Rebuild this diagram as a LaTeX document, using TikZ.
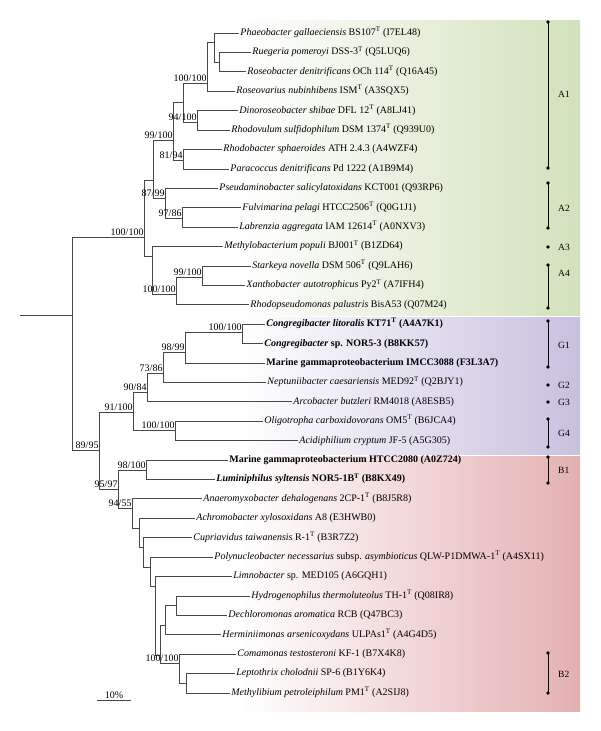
\documentclass[tikz,border=0pt]{standalone}
\usepackage{fontspec}
\setmainfont{Liberation Serif}
\newcommand{\supT}{\textsuperscript{T}}
\definecolor{cgreen}{RGB}{210,225,188}
\definecolor{cpurple}{RGB}{200,192,222}
\definecolor{cred}{RGB}{228,176,178}
\begin{document}
\begin{tikzpicture}[x=1pt,y=-1pt,
  br/.style={draw=black!72, line width=0.65pt},
  leaf/.style={anchor=west, inner xsep=1.2pt, inner ysep=0pt, font=\fontsize{10}{12}\selectfont, text height=7pt, text depth=2.2pt},
  bs/.style={anchor=south east, inner xsep=0.3pt, inner ysep=1.6pt, font=\fontsize{10}{12}\selectfont},
  clbar/.style={draw=black, line width=0.7pt},
  cllab/.style={anchor=west, inner sep=0pt, font=\fontsize{9.5}{11}\selectfont}]
\useasboundingbox (0,0) rectangle (600,731);
% backgrounds
\shade[left color=white, right color=cgreen] (240,20) rectangle (580,315.5);
\shade[left color=white, right color=cpurple] (240,317) rectangle (580,454);
\shade[left color=white, right color=cred] (240,456) rectangle (580,711);
% internal nodes
\coordinate (rs) at (20,315);
\coordinate (r) at (72,315);
\coordinate (nAlpha) at (144,237);
\coordinate (nA12) at (153,180);
\coordinate (nA1) at (173,140);
\coordinate (nX) at (183,102);
\coordinate (nR1) at (207,83);
\coordinate (nR2) at (214,42);
\coordinate (nR3) at (219,62);
\coordinate (n94) at (197,122);
\coordinate (n8194) at (183,160);
\coordinate (nA2) at (165,198);
\coordinate (n9786) at (182,218);
\coordinate (nA34) at (152,256);
\coordinate (nA4) at (176,294);
\coordinate (n99) at (202,277);
\coordinate (n8995) at (99,450);
\coordinate (nG) at (133,412);
\coordinate (n9084) at (147,392);
\coordinate (n7386) at (163,373);
\coordinate (n9899) at (185,352);
\coordinate (nG1) at (242,332);
\coordinate (nG4) at (175,430);
\coordinate (n9597) at (118,489);
\coordinate (nB1) at (146,470);
\coordinate (n9455) at (132,508);
\coordinate (nb1) at (139,528);
\coordinate (nb2) at (143,547);
\coordinate (nb3) at (150,567);
\coordinate (nb4) at (155,586);
\coordinate (nb5) at (160,655);
\coordinate (nb6) at (165,625);
\coordinate (nb7) at (176,605);
\coordinate (nB2) at (179,663);
\coordinate (nb8) at (186,683);
% leaves
\node[leaf] (L0) at (239,33.0) {\textit{Phaeobacter gallaeciensis} BS107\supT{} (I7EL48)};
\node[leaf] (L1) at (251,52.4) {\textit{Ruegeria pomeroyi} DSS-3\supT{} (Q5LUQ6)};
\node[leaf] (L2) at (246,71.8) {\textit{Roseobacter denitrificans} OCh 114\supT{} (Q16A45)};
\node[leaf] (L3) at (235,91.2) {\textit{Roseovarius nubinhibens} ISM\supT{} (A3SQX5)};
\node[leaf] (L4) at (238,110.6) {\textit{Dinoroseobacter shibae} DFL 12\supT{} (A8LJ41)};
\node[leaf] (L5) at (230,130.1) {\textit{Rhodovulum sulfidophilum} DSM 1374\supT{} (Q939U0)};
\node[leaf] (L6) at (222,149.5) {\textit{Rhodobacter sphaeroides} ATH 2.4.3 (A4WZF4)};
\node[leaf] (L7) at (229,168.9) {\textit{Paracoccus denitrificans} Pd 1222 (A1B9M4)};
\node[leaf] (L8) at (218,188.3) {\textit{Pseudaminobacter salicylatoxidans} KCT001 (Q93RP6)};
\node[leaf] (L9) at (241,207.7) {\textit{Fulvimarina pelagi} HTCC2506\supT{} (Q0G1J1)};
\node[leaf] (L10) at (238,227.1) {\textit{Labrenzia aggregata} IAM 12614\supT{} (A0NXV3)};
\node[leaf] (L11) at (223,246.5) {\textit{Methylobacterium populi} BJ001\supT{} (B1ZD64)};
\node[leaf] (L12) at (251,265.9) {\textit{Starkeya novella} DSM 506\supT{} (Q9LAH6)};
\node[leaf] (L13) at (245,285.3) {\textit{Xanthobacter autotrophicus} Py2\supT{} (A7IFH4)};
\node[leaf] (L14) at (249,304.7) {\textit{Rhodopseudomonas palustris} BisA53 (Q07M24)};
\node[leaf] (L15) at (265,324.2) {\textbf{\textit{Congregibacter litoralis} KT71\supT{} (A4A7K1)}};
\node[leaf] (L16) at (263,343.6) {\textbf{\textit{Congregibacter} sp. NOR5-3 (B8KK57)}};
\node[leaf] (L17) at (265,363.0) {\textbf{Marine gammaproteobacterium IMCC3088 (F3L3A7)}};
\node[leaf] (L18) at (266,382.4) {\textit{Neptuniibacter caesariensis} MED92\supT{} (Q2BJY1)};
\node[leaf] (L19) at (292,401.8) {\textit{Arcobacter butzleri} RM4018 (A8ESB5)};
\node[leaf] (L20) at (263,421.2) {\textit{Oligotropha carboxidovorans} OM5\supT{} (B6JCA4)};
\node[leaf] (L21) at (298,440.6) {\textit{Acidiphilium cryptum} JF-5 (A5G305)};
\node[leaf] (L22) at (228,460.0) {\textbf{Marine gammaproteobacterium HTCC2080 (A0Z724)}};
\node[leaf] (L23) at (215,479.4) {\textbf{\textit{Luminiphilus syltensis} NOR5-1B\supT{} (B8KX49)}};
\node[leaf] (L24) at (202,498.8) {\textit{Anaeromyxobacter dehalogenans} 2CP-1\supT{} (B8J5R8)};
\node[leaf] (L25) at (195,518.3) {\textit{Achromobacter xylosoxidans} A8 (E3HWB0)};
\node[leaf] (L26) at (192,537.7) {\textit{Cupriavidus taiwanensis} R-1\supT{} (B3R7Z2)};
\node[leaf] (L27) at (213,557.1) {\textit{Polynucleobacter necessarius} subsp. \textit{asymbioticus} QLW-P1DMWA-1\supT{} (A4SX11)};
\node[leaf] (L28) at (232,576.5) {\textit{Limnobacter} sp. MED105 (A6GQH1)};
\node[leaf] (L29) at (250,595.9) {\textit{Hydrogenophilus thermoluteolus} TH-1\supT{} (Q08IR8)};
\node[leaf] (L30) at (227,615.3) {\textit{Dechloromonas aromatica} RCB (Q47BC3)};
\node[leaf] (L31) at (221,634.7) {\textit{Herminiimonas arsenicoxydans} ULPAs1\supT{} (A4G4D5)};
\node[leaf] (L32) at (236,654.1) {\textit{Comamonas testosteroni} KF-1 (B7X4K8)};
\node[leaf] (L33) at (235,673.5) {\textit{Leptothrix cholodnii} SP-6 (B1Y6K4)};
\node[leaf] (L34) at (230,692.9) {\textit{Methylibium petroleiphilum} PM1\supT{} (A2SIJ8)};
% branches
\draw[br] (rs) -- (r);
\draw[br] (r) |- (nAlpha) (r) |- (n8995);
\draw[br] (nAlpha) |- (nA12) (nAlpha) |- (nA34);
\draw[br] (nA12) |- (nA1) (nA12) |- (nA2);
\draw[br] (nA1) |- (nX) (nA1) |- (n8194);
\draw[br] (nX) |- (nR1) (nX) |- (n94);
\draw[br] (nR1) |- (nR2) (nR1) |- (L3.west);
\draw[br] (nR2) |- (L0.west) (nR2) |- (nR3);
\draw[br] (nR3) |- (L1.west) (nR3) |- (L2.west);
\draw[br] (n94) |- (L4.west) (n94) |- (L5.west);
\draw[br] (n8194) |- (L6.west) (n8194) |- (L7.west);
\draw[br] (nA2) |- (L8.west) (nA2) |- (n9786);
\draw[br] (n9786) |- (L9.west) (n9786) |- (L10.west);
\draw[br] (nA34) |- (L11.west) (nA34) |- (nA4);
\draw[br] (nA4) |- (n99) (nA4) |- (L14.west);
\draw[br] (n99) |- (L12.west) (n99) |- (L13.west);
\draw[br] (n8995) |- (nG) (n8995) |- (n9597);
\draw[br] (nG) |- (n9084) (nG) |- (nG4);
\draw[br] (n9084) |- (n7386) (n9084) |- (L19.west);
\draw[br] (n7386) |- (n9899) (n7386) |- (L18.west);
\draw[br] (n9899) |- (nG1) (n9899) |- (L17.west);
\draw[br] (nG1) |- (L15.west) (nG1) |- (L16.west);
\draw[br] (nG4) |- (L20.west) (nG4) |- (L21.west);
\draw[br] (n9597) |- (nB1) (n9597) |- (n9455);
\draw[br] (nB1) |- (L22.west) (nB1) |- (L23.west);
\draw[br] (n9455) |- (L24.west) (n9455) |- (nb1);
\draw[br] (nb1) |- (L25.west) (nb1) |- (nb2);
\draw[br] (nb2) |- (L26.west) (nb2) |- (nb3);
\draw[br] (nb3) |- (L27.west) (nb3) |- (nb4);
\draw[br] (nb4) |- (L28.west) (nb4) |- (nb5);
\draw[br] (nb5) |- (nb6) (nb5) |- (nB2);
\draw[br] (nb6) |- (nb7) (nb6) |- (L31.west);
\draw[br] (nb7) |- (L29.west) (nb7) |- (L30.west);
\draw[br] (nB2) |- (L32.west) (nB2) |- (nb8);
\draw[br] (nb8) |- (L33.west) (nb8) |- (L34.west);
% bootstrap labels
\node[bs] (b1) at (nAlpha) {100/100};
\node[bs] (b2) at (nA1) {99/100};
\node[bs] (b3) at (nR1) {100/100};
\node[bs] (b4) at (n94) {94/100};
\node[bs] (b5) at (n8194) {81/94};
\node[bs] (b6) at (nA2) {87/99};
\node[bs] (b7) at (n9786) {97/86};
\node[bs] (b8) at (n99) {99/100};
\node[bs] (b9) at (nA4) {100/100};
\node[bs] (b10) at (nG1) {100/100};
\node[bs] (b11) at (n9899) {98/99};
\node[bs] (b12) at (n7386) {73/86};
\node[bs] (b13) at (n9084) {90/84};
\node[bs] (b14) at (nG) {91/100};
\node[bs] (b15) at (nG4) {100/100};
\node[bs] (b16) at (n8995) {89/95};
\node[bs] (b17) at (nB1) {98/100};
\node[bs] (b18) at (n9597) {95/97};
\node[bs] (b19) at (n9455) {94/55};
\node[bs] (b20) at (nB2) {100/100};
% scale bar
\coordinate (s1) at (97,700);
\coordinate (s2) at (131,700);
\draw[br] (s1) -- node[above, inner sep=1.5pt, font=\fontsize{10}{12}\selectfont] (sl) {10\%} (s2);
% clade bars
\foreach \n/\ya/\yb/\yl in {A1/22/168/94, A2/183/228/208, A4/265/308/273, G1/321/367/345, G4/419/447/433, B1/457/483/470, B2/653/693/674} {
  \coordinate (\n t) at (548,\ya);
  \coordinate (\n b) at (548,\yb);
  \draw[clbar] (\n t) -- (\n b);
  \fill (\n t) circle (1.8pt);
  \fill (\n b) circle (1.8pt);
  \node[cllab] (\n l) at (558,\yl) {\n};
}
\foreach \n/\ya in {A3/247, G2/385, G3/402} {
  \coordinate (\n t) at (548,\ya);
  \fill (\n t) circle (1.8pt);
  \node[cllab] (\n l) at (558,\ya) {\n};
}
\end{tikzpicture}
\end{document}
